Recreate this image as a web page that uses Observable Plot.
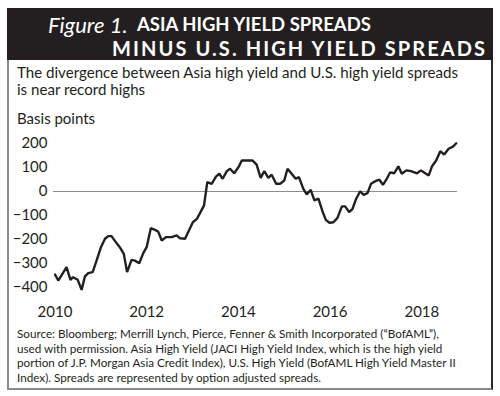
<!DOCTYPE html>
<html><head><meta charset="utf-8">
<script src="https://cdn.jsdelivr.net/npm/d3@7"></script>
<script src="https://cdn.jsdelivr.net/npm/@observablehq/plot@0.6"></script>
<style>
body{margin:0;background:#fff;}
#wrap{position:relative;width:500px;height:396px;font-family:Lato,sans-serif;color:#231f20;overflow:hidden;}
#frame{position:absolute;left:7px;top:8px;width:486px;height:382px;border-left:2px solid #8a8a8a;border-right:2px solid #2a2a2a;border-bottom:2px solid #8a8a8a;box-sizing:border-box;}
#band{position:absolute;left:7px;top:8px;width:486px;height:52px;background:#231f20;}
.t{position:absolute;color:#fff;font-size:18.5px;white-space:nowrap;line-height:1;}
#sub{position:absolute;left:17px;top:64px;font-size:15.1px;line-height:17px;white-space:nowrap;}
#bp{position:absolute;left:17px;top:110px;font-size:15px;line-height:17px;}
#cap{position:absolute;left:17px;top:326px;font-size:11.7px;line-height:14.7px;white-space:nowrap;}
#chart{position:absolute;left:0;top:130px;}
</style></head>
<body><div id="wrap">
<div id="frame"></div>
<div id="band"></div>
<div class="t" id="fig" style="left:48px;top:14px;font-style:italic;font-size:22px;">Figure 1.</div>
<div class="t" id="t1" style="left:137px;top:15px;font-weight:bold;">ASIA HIGH YIELD SPREADS</div>
<div class="t" id="t2" style="left:112px;top:38px;font-weight:bold;font-size:20px;">MINUS U.S. HIGH YIELD SPREADS</div>
<div id="sub">The divergence between Asia high yield and U.S. high yield spreads<br>is near record highs</div>
<div id="bp">Basis points</div>
<div id="chart"></div>
<div id="cap">Source: Bloomberg; Merrill Lynch, Pierce, Fenner &amp; Smith Incorporated (“BofAML”),<br>used with permission. Asia High Yield (JACI High Yield Index, which is the high yield<br>portion of J.P. Morgan Asia Credit Index), U.S. High Yield (BofAML High Yield Master II<br>Index). Spreads are represented by option adjusted spreads.</div>
</div>
<script>
const dates = ["2010-01-01","2010-01-27","2010-04-03","2010-05-04","2010-05-25","2010-07-01","2010-08-01","2010-08-27","2010-09-23","2010-10-28","2010-11-28",
"2011-01-02","2011-02-03","2011-03-01","2011-03-27","2011-05-06","2011-06-01","2011-07-03","2011-07-29","2011-09-03","2011-09-29","2011-11-03","2011-12-05",
"2012-01-01","2012-02-03","2012-03-07","2012-04-02","2012-04-30","2012-06-03","2012-07-18","2012-08-27","2012-09-23","2012-11-02",
"2013-01-03","2013-02-04","2013-03-01","2013-04-02","2013-04-28","2013-06-02","2013-07-06","2013-08-02","2013-08-28","2013-10-01","2013-10-26","2013-11-28",
"2014-01-01","2014-01-28","2014-04-24","2014-05-26","2014-06-27","2014-07-26","2014-08-27","2014-09-23","2014-10-28","2014-11-29",
"2015-01-01","2015-01-27","2015-03-01","2015-04-02","2015-04-28","2015-06-02","2015-06-29","2015-07-31","2015-08-29","2015-09-30","2015-11-04","2015-11-28","2015-12-27",
"2016-01-28","2016-02-29","2016-04-04","2016-04-30","2016-06-01","2016-06-28","2016-07-27","2016-08-28","2016-09-24","2016-10-25","2016-11-22","2016-12-26",
"2017-01-28","2017-02-25","2017-03-28","2017-04-24","2017-05-25","2017-06-28","2017-07-25","2017-08-30","2017-10-06","2017-11-24","2017-12-25",
"2018-01-22","2018-02-25","2018-03-22","2018-04-25","2018-05-28","2018-06-28","2018-08-02","2018-09-06","2018-10-02"];
const spreads = [-346,-371,-315,-368,-357,-368,-410,-354,-340,-336,-288,
-232,-197,-186,-186,-215,-232,-260,-336,-285,-288,-299,-257,
-232,-153,-160,-167,-204,-190,-190,-183,-195,-197,
-128,-114,-90,-58,39,32,62,74,53,85,95,76,
101,129,129,112,57,85,57,70,32,32,
46,95,74,53,60,11,-12,7,-37,-30,-86,-118,-130,
-128,-110,-62,-62,-86,-72,-30,1,-14,-7,32,43,
49,28,53,80,76,105,74,88,85,76,88,
78,67,104,129,168,154,178,187,201];
const xTickLabels = ["2010","2012","2014","2016","2018"];
const yTicks = [200,100,0,-100,-200,-300,-400];

// widen the second title line to the reference's extent
(function(){
  const el = document.getElementById("t2");
  const n = el.textContent.length;
  const w = el.getBoundingClientRect().width;
  el.style.letterSpacing = Math.max(0, (373 - w) / (n - 1)) + "px";
})();

const data = dates.map((d,i)=>({date:new Date(d), value:spreads[i]}));
const chart = Plot.plot({
  width:500, height:190, marginTop:13, marginBottom:33, marginLeft:53, marginRight:43,
  style:{fontFamily:"Lato, sans-serif", fontSize:"15px", color:"#231f20", background:"transparent", overflow:"visible"},
  x:{type:"utc", domain:[new Date("2009-12-20"), new Date("2018-10-12")], ticks:xTickLabels.map(s=>new Date(s+"-01-01")), tickFormat:d=>String(d.getUTCFullYear()), tickSize:0, tickPadding:19, label:null},
  y:{domain:[-400,200], ticks:yTicks, tickSize:0, tickPadding:6, label:null},
  marks:[
    Plot.ruleY([0],{stroke:"#8c8c8c", strokeWidth:1.2}),
    Plot.line(data,{x:"date", y:"value", stroke:"#231f20", strokeWidth:2.4, strokeLinejoin:"miter"})
  ]
});
document.getElementById("chart").appendChild(chart);
</script>
</body></html>
